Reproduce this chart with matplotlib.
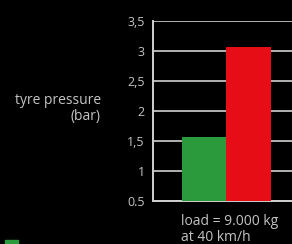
import matplotlib

matplotlib.use("Agg")
import matplotlib.pyplot as plt
from matplotlib.patches import Rectangle

# values
categories = ["tyre A", "tyre B"]
pressures = [1.57, 3.07]
bar_colors = ["#2b9a3c", "#e60d17"]
y_ticks = [0.5, 1, 1.5, 2, 2.5, 3, 3.5]
y_tick_labels = ["0.5", "1", "1,5", "2", "2,5", "3", "3,5"]
base = 0.5

plt.rcParams["font.family"] = ["Open Sans", "DejaVu Sans"]
text_color = "#c4c4c4"
grid_color = "#d0d0d0"

fig = plt.figure(figsize=(2.92, 2.44), dpi=100, facecolor="black")
ax = fig.add_axes([0.524, 0.176, 0.63, 0.738], facecolor="black")

x = list(range(len(categories)))
heights = [p - base for p in pressures]
ax.bar(x, heights, bottom=base, width=1.0, color=bar_colors, zorder=3)

ax.set_ylim(0.5, 3.5)
ax.set_xlim(-1.16, 3.0)
ax.set_yticks(y_ticks)
ax.set_yticklabels(y_tick_labels)
ax.set_xticks([])
ax.tick_params(axis="y", length=0, pad=6, colors=text_color, labelsize=9)
ax.yaxis.grid(True, color=grid_color, linewidth=1.2, zorder=1)
ax.set_axisbelow(True)

for side in ["top", "right"]:
    ax.spines[side].set_visible(False)
for side in ["left", "bottom"]:
    ax.spines[side].set_color(grid_color)
    ax.spines[side].set_linewidth(1.4)

fig.text(0.345, 0.555, "tyre pressure\n(bar)", ha="right", va="center",
         color=text_color, fontsize=10, linespacing=1.1)

fig.text(0.621, 0.06, "load = 9.000 kg\nat 40 km/h", ha="left", va="center",
         color=text_color, fontsize=10, linespacing=1.1)

fig.add_artist(Rectangle((0.017, -0.02), 0.045, 0.035, transform=fig.transFigure,
                         color=bar_colors[0]))

fig.savefig("out.png", dpi=100, facecolor="black")
